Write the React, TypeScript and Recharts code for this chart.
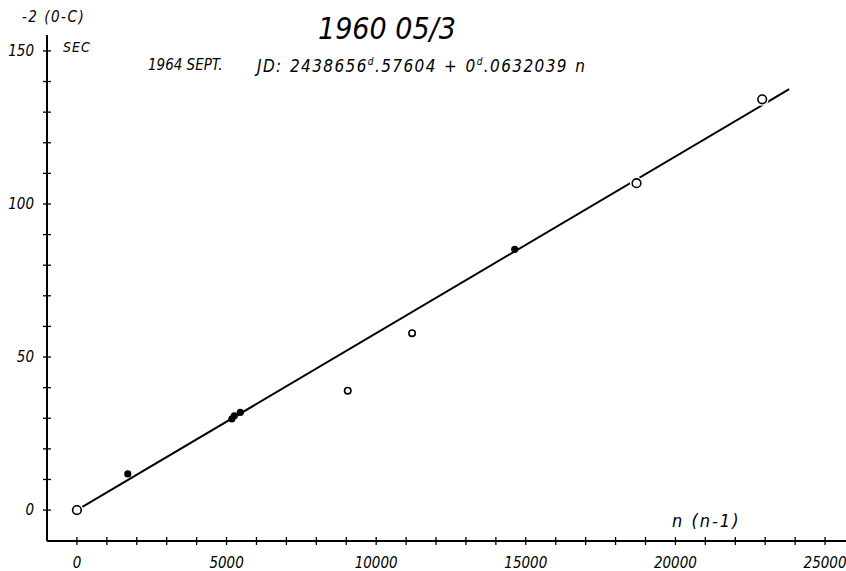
import { ComposedChart, Scatter, XAxis, YAxis } from "recharts";

// fitted straight line (two end points)
const fitX = [0, 23800];
const fitY = [0, 137.5];

// open circles (large)
const openX = [0, 18700, 22900];
const openY = [0, 106.8, 134.2];

// open circles (small)
const smallX = [9050, 11200];
const smallY = [39, 57.8];

// filled dots
const dotX = [1700, 5180, 5260, 5460, 14630];
const dotY = [11.8, 29.8, 30.8, 31.9, 85.2];

const xTicks = [
  0, 1000, 2000, 3000, 4000, 5000, 6000, 7000, 8000, 9000, 10000, 11000, 12000,
  13000, 14000, 15000, 16000, 17000, 18000, 19000, 20000, 21000, 22000, 23000,
  24000, 25000,
];
const xLabels = [0, 5000, 10000, 15000, 20000, 25000];
const yTicks = [0, 10, 20, 30, 40, 50, 60, 70, 80, 90, 100, 110, 120, 130, 140, 150];
const yLabels = [0, 50, 100, 150];

const font = "'DejaVu Sans Condensed', 'Liberation Sans Narrow', 'DejaVu Sans', sans-serif";

const toPts = (xs: number[], ys: number[]) => xs.map((x, i) => ({ x, y: ys[i] }));
const fitLine = toPts(fitX, fitY);
const openPts = toPts(openX, openY);
const smallPts = toPts(smallX, smallY);
const dotPts = toPts(dotX, dotY);

function XTick(props: any) {
  const { x, y, payload } = props;
  const v = payload.value;
  return (
    <g>
      <line x1={x} x2={x} y1={y - 4} y2={y + 4} stroke="#000" strokeWidth={1.3} />
      {xLabels.includes(v) && (
        <text x={x} y={y + 27} textAnchor="middle" fontSize={15} fontStyle="italic" fontFamily={font} fill="#000">
          {v}
        </text>
      )}
    </g>
  );
}

function YTick(props: any) {
  const { x, y, payload } = props;
  const v = payload.value;
  return (
    <g>
      <line x1={x - 4} x2={x + 4} y1={y} y2={y} stroke="#000" strokeWidth={1.3} />
      {yLabels.includes(v) && (
        <text x={x - 13} y={y + 5} textAnchor="end" fontSize={15} fontStyle="italic" fontFamily={font} fill="#000">
          {v}
        </text>
      )}
    </g>
  );
}

const OpenCircle = (p: any) => (
  <g>
    <circle cx={p.cx} cy={p.cy} r={6.5} fill="#fff" />
    <circle cx={p.cx} cy={p.cy} r={4.3} fill="#fff" stroke="#000" strokeWidth={1.6} />
  </g>
);

const SmallCircle = (p: any) => (
  <g>
    <circle cx={p.cx} cy={p.cy} r={5} fill="#fff" />
    <circle cx={p.cx} cy={p.cy} r={3.2} fill="#fff" stroke="#000" strokeWidth={1.6} />
  </g>
);

const FilledDot = (p: any) => <circle cx={p.cx} cy={p.cy} r={3.6} fill="#000" />;

const txt = (extra: any) => ({
  position: "absolute" as const,
  fontFamily: font,
  fontStyle: "italic",
  color: "#000",
  whiteSpace: "nowrap" as const,
  lineHeight: 1,
  ...extra,
});

export default function App() {
  return (
    <div style={{ position: "absolute", left: 0, top: 0, width: 846, height: 571, background: "#fff" }}>
      <ComposedChart width={846} height={571} margin={{ top: 35, right: 0, bottom: 0, left: 0 }}>
        <XAxis
          type="number"
          dataKey="x"
          domain={[-1000, 25700]}
          ticks={xTicks}
          interval={0}
          tickSize={0}
          tickMargin={0}
          tickLine={false}
          axisLine={{ stroke: "#000", strokeWidth: 2 }}
          height={30}
          tick={<XTick />}
          allowDataOverflow
        />
        <YAxis
          type="number"
          dataKey="y"
          domain={[-10.1, 155.2]}
          ticks={yTicks}
          interval={0}
          tickSize={0}
          tickMargin={0}
          tickLine={false}
          axisLine={{ stroke: "#000", strokeWidth: 2 }}
          width={47}
          tick={<YTick />}
          allowDataOverflow
        />
        <Scatter
          data={fitLine}
          line={{ stroke: "#000", strokeWidth: 2 }}
          shape={() => <g />}
          isAnimationActive={false}
        />
        <Scatter data={dotPts} shape={FilledDot} isAnimationActive={false} />
        <Scatter data={smallPts} shape={SmallCircle} isAnimationActive={false} />
        <Scatter data={openPts} shape={OpenCircle} isAnimationActive={false} />
      </ComposedChart>

      <div style={txt({ left: 22, top: 10, fontSize: 15, letterSpacing: 1.5 })}>-2 (0-C)</div>
      <div style={txt({ left: 63, top: 40, fontSize: 14, letterSpacing: 1 })}>SEC</div>
      <div style={txt({ left: 318, top: 14, fontSize: 30 })}>1960 05/3</div>
      <div style={txt({ left: 148, top: 58, fontSize: 15 })}>1964 SEPT.</div>
      <div style={txt({ left: 257, top: 57, fontSize: 17, letterSpacing: 1.4, wordSpacing: 1 })}>
        JD: 2438656<sup style={{ fontSize: 10 }}>d</sup>.57604 + 0<sup style={{ fontSize: 10 }}>d</sup>.0632039 n
      </div>
      <div style={txt({ left: 672, top: 512, fontSize: 18, letterSpacing: 2 })}>n (n-1)</div>
    </div>
  );
}
